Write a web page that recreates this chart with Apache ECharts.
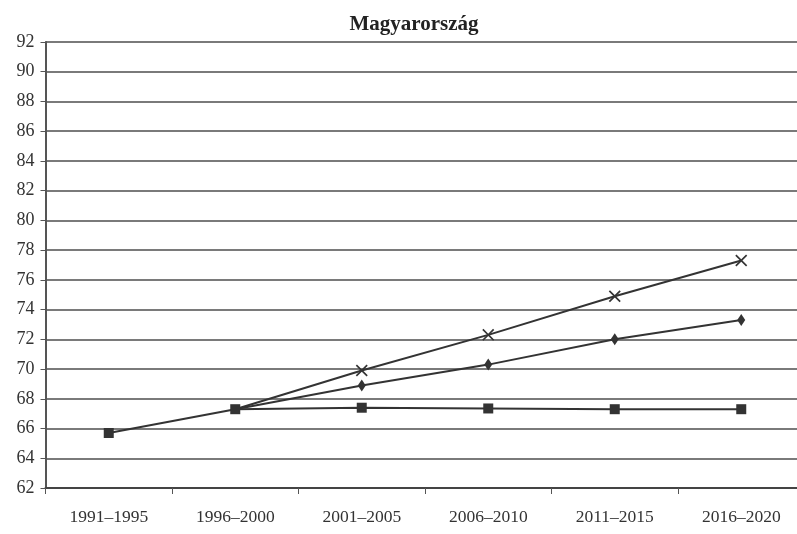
<!DOCTYPE html>
<html>
<head>
<meta charset="utf-8">
<script src="https://cdn.jsdelivr.net/npm/echarts@6/dist/echarts.min.js"></script>
<style>
  html, body { margin: 0; padding: 0; background: #fff; }
  #chart { width: 797px; height: 534px; }
</style>
</head>
<body>
<div id="chart"></div>
<script>
const periods = ['1991–1995', '1996–2000', '2001–2005', '2006–2010', '2011–2015', '2016–2020']
const yTicks = [62, 64, 66, 68, 70, 72, 74, 76, 78, 80, 82, 84, 86, 88, 90, 92]

// three projections, all branching from the 1996–2000 value
const seriesSquare = [65.7, 67.3, 67.4, 67.35, 67.3, 67.3]
const seriesDiamond = ['-', 67.3, 68.9, 70.3, 72.0, 73.3]
const seriesCross = ['-', 67.3, 69.9, 72.3, 74.9, 77.3]

const lineColor = '#333'
const crossPath = 'path://M0,1L1,0L5,4L9,0L10,1L6,5L10,9L9,10L5,6L1,10L0,9L4,5Z'

const chart = echarts.init(document.getElementById('chart'))

// hide the first drawn marker where branch lines start under the square
function branchData(values) {
  return values.map((v, i) => (i === 1 ? { value: v, symbol: 'none' } : v))
}

chart.setOption({
  animation: false,
  backgroundColor: '#fff',
  title: {
    text: 'Magyarország',
    left: 409,
    top: 9,
    textAlign: 'center',
    textStyle: { fontFamily: 'Liberation Serif', fontSize: 21, fontWeight: 'bold', color: '#222' }
  },
  // plot runs a few pixels past the right edge, as in the cropped scan
  grid: { left: 45.5, top: 42, width: 759, bottom: 46, outerBoundsMode: 'none' },
  xAxis: {
    type: 'category',
    data: periods,
    boundaryGap: true,
    axisLine: { lineStyle: { color: '#444', width: 2 } },
    axisTick: { show: true, length: 6, lineStyle: { color: '#555' } },
    axisLabel: { fontFamily: 'Liberation Serif', fontSize: 17.5, color: '#333', margin: 20 }
  },
  yAxis: {
    type: 'value',
    min: yTicks[0],
    max: yTicks[yTicks.length - 1],
    interval: 2,
    axisLine: { show: true, lineStyle: { color: '#555', width: 2 } },
    axisTick: { show: true, length: 5, lineStyle: { color: '#555' } },
    axisLabel: { fontFamily: 'Liberation Serif', fontSize: 18, color: '#333', margin: 11 },
    splitLine: { lineStyle: { color: '#7a7a7a', width: 2 } }
  },
  series: [
    {
      name: 'cross',
      type: 'line',
      data: branchData(seriesCross),
      symbol: crossPath,
      symbolSize: 12,
      lineStyle: { color: lineColor, width: 2 },
      itemStyle: { color: lineColor },
      z: 3
    },
    {
      name: 'diamond',
      type: 'line',
      data: branchData(seriesDiamond),
      symbol: 'diamond',
      symbolSize: [8, 12],
      lineStyle: { color: lineColor, width: 2 },
      itemStyle: { color: lineColor },
      z: 3
    },
    {
      name: 'square',
      type: 'line',
      data: seriesSquare,
      symbol: 'rect',
      symbolSize: 10,
      lineStyle: { color: lineColor, width: 2 },
      itemStyle: { color: lineColor },
      z: 4
    }
  ]
})
</script>
</body>
</html>
